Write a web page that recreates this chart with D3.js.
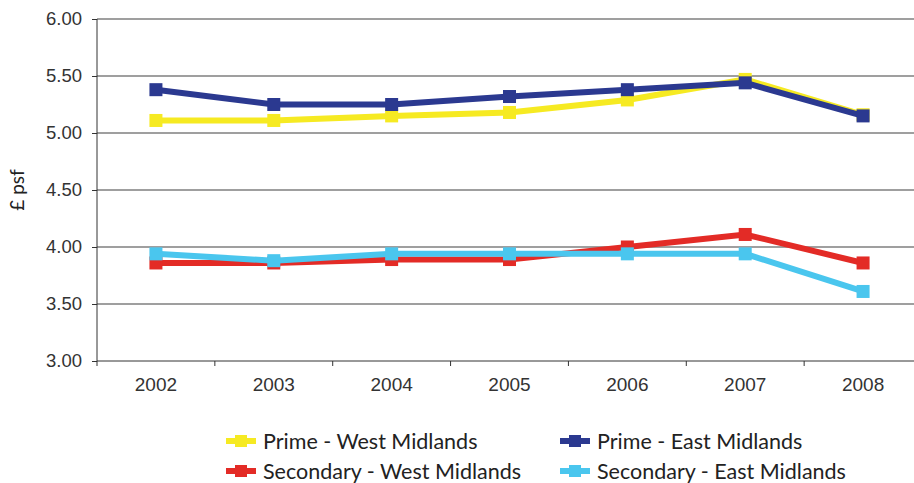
<!DOCTYPE html>
<html>
<head>
<meta charset="utf-8">
<script src="https://cdn.jsdelivr.net/npm/d3@7"></script>
<style>
    body { margin: 0; background: #fff; }
    svg { display: block; }
    .tick text { font-family: "Liberation Sans", Arial, sans-serif; fill: #333; }
    .legend text { font-family: Lato, sans-serif; fill: #222; }
</style>
</head>
<body>
<div id="chart"></div>
<script>
// data
const years = ['2002', '2003', '2004', '2005', '2006', '2007', '2008'];
const primeWest = [5.11, 5.11, 5.15, 5.18, 5.29, 5.47, 5.16];
const primeEast = [5.38, 5.25, 5.25, 5.32, 5.38, 5.44, 5.15];
const secondaryWest = [3.86, 3.86, 3.89, 3.89, 4.00, 4.11, 3.86];
const secondaryEast = [3.94, 3.88, 3.94, 3.94, 3.94, 3.94, 3.61];
const yTicks = [3.00, 3.50, 4.00, 4.50, 5.00, 5.50, 6.00];

const series = [
    {name: 'Prime - West Midlands', values: primeWest, color: '#f6ea22'},
    {name: 'Prime - East Midlands', values: primeEast, color: '#2b3990'},
    {name: 'Secondary - West Midlands', values: secondaryWest, color: '#e32b26'},
    {name: 'Secondary - East Midlands', values: secondaryEast, color: '#4ac6ee'}
];

let width = 914;
let height = 483;
let margin = {top: 19, right: -8, bottom: 122, left: 97};
let chartWidth = width - margin.left - margin.right;
let chartHeight = height - margin.top - margin.bottom;

let svg = d3.select('#chart')
    .append('svg')
    .attr('width', width)
    .attr('height', height);

let g = svg.append('g')
    .attr('transform', `translate(${margin.left},${margin.top})`);

let xScale = d3.scaleBand()
    .domain(years)
    .range([0, chartWidth]);

let yScale = d3.scaleLinear()
    .domain([3, 6])
    .range([chartHeight, 0]);

// gridlines
g.append('g')
    .selectAll('line')
    .data(yTicks.slice(1))
    .enter()
  .append('line')
    .attr('x1', 0)
    .attr('x2', chartWidth)
    .attr('y1', d => yScale(d))
    .attr('y2', d => yScale(d))
    .attr('stroke', '#7f7f7f')
    .attr('stroke-width', 1.6);

// y axis
let yAxis = d3.axisLeft(yScale)
    .tickValues(yTicks)
    .tickFormat(d3.format('.2f'))
    .tickSize(5)
    .tickPadding(10);

g.append('g')
    .call(yAxis)
    .call(s => s.select('.domain').attr('stroke', '#333').attr('d', `M0,0V${chartHeight}`))
    .call(s => s.selectAll('.tick line').attr('stroke', '#333'))
    .call(s => s.selectAll('.tick text').attr('font-size', 18.5));

// x axis with ticks between categories
let xAxis = d3.axisBottom(xScale)
    .tickSize(0)
    .tickPadding(17);

let xg = g.append('g')
    .attr('transform', `translate(0,${chartHeight})`)
    .call(xAxis)
    .call(s => s.select('.domain').attr('stroke', '#333').attr('d', `M0,0H${chartWidth}`))
    .call(s => s.selectAll('.tick text').attr('font-size', 19));

xg.selectAll('.sep')
    .data(years)
    .enter()
  .append('line')
    .attr('x1', d => xScale(d))
    .attr('x2', d => xScale(d))
    .attr('y1', 0)
    .attr('y2', 5)
    .attr('stroke', '#333');

// y label
svg.append('text')
    .attr('transform', 'translate(24,190) rotate(-90)')
    .attr('text-anchor', 'middle')
    .attr('font-family', 'Lato, sans-serif')
    .attr('font-size', 19)
    .attr('fill', '#222')
    .text('£ psf');

// lines and markers
const line = d3.line()
    .x((d, i) => xScale(years[i]) + xScale.bandwidth() / 2)
    .y(d => yScale(d));

series.forEach(s => {
    let sg = g.append('g');
    sg.append('path')
        .datum(s.values)
        .attr('d', line)
        .attr('fill', 'none')
        .attr('stroke', s.color)
        .attr('stroke-width', 6);
    sg.selectAll('rect')
        .data(s.values)
        .enter()
      .append('rect')
        .attr('x', (d, i) => xScale(years[i]) + xScale.bandwidth() / 2 - 6.5)
        .attr('y', d => yScale(d) - 6.5)
        .attr('width', 13)
        .attr('height', 13)
        .attr('fill', s.color);
});

// legend
let legend = svg.append('g').attr('class', 'legend');
let cols = [226, 560];
let rows = [441, 471];
series.forEach((s, i) => {
    let x = cols[i % 2];
    let y = rows[Math.floor(i / 2)];
    let lg = legend.append('g').attr('transform', `translate(${x},${y})`);
    lg.append('line')
        .attr('x1', 0).attr('x2', 30)
        .attr('stroke', s.color)
        .attr('stroke-width', 6);
    lg.append('rect')
        .attr('x', 9).attr('y', -6)
        .attr('width', 12).attr('height', 12)
        .attr('fill', s.color);
    lg.append('text')
        .attr('x', 37)
        .attr('dy', '0.35em')
        .attr('font-size', 21.5)
        .text(s.name);
});
</script>
</body>
</html>
